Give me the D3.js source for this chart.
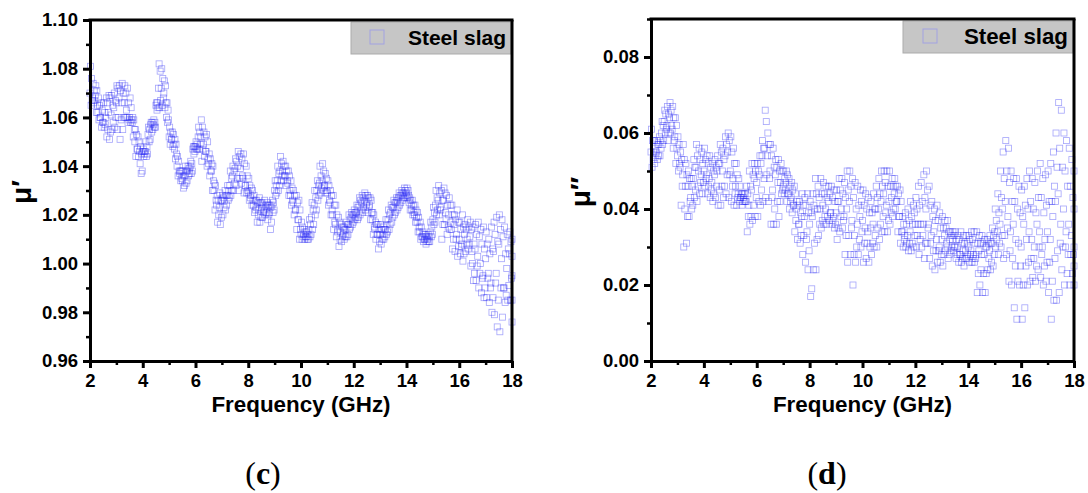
<!DOCTYPE html>
<html><head><meta charset="utf-8">
<script src="https://cdnjs.cloudflare.com/ajax/libs/d3/7.8.5/d3.min.js"></script>
<style>html,body{margin:0;padding:0;background:#fff}svg{display:block}</style>
</head><body><svg id="c" width="1088" height="493"></svg>
<script>
// One row per GHz, ten samples per row (0.1 GHz apart), last row is 18 GHz.
const muRealHigh = [
1.081,1.074,1.073,1.068,1.066,1.066,1.068,1.069,1.069,1.070,
1.073,1.073,1.074,1.073,1.072,1.068,1.060,1.055,1.052,1.048,
1.047,1.050,1.056,1.058,1.059,1.066,1.082,1.080,1.075,1.066,
1.056,1.054,1.051,1.044,1.038,1.038,1.040,1.040,1.042,1.048,
1.050,1.056,1.059,1.054,1.053,1.045,1.041,1.033,1.028,1.029,
1.028,1.030,1.032,1.038,1.040,1.043,1.046,1.045,1.045,1.040,
1.035,1.031,1.028,1.026,1.027,1.025,1.026,1.025,1.024,1.026,
1.034,1.040,1.044,1.042,1.040,1.038,1.034,1.030,1.028,1.026,
1.017,1.014,1.013,1.018,1.025,1.030,1.034,1.040,1.041,1.037,
1.034,1.030,1.028,1.024,1.019,1.016,1.015,1.017,1.020,1.021,
1.022,1.024,1.027,1.028,1.029,1.028,1.027,1.021,1.017,1.016,
1.016,1.015,1.018,1.022,1.024,1.026,1.027,1.029,1.030,1.031,
1.031,1.027,1.026,1.024,1.021,1.017,1.013,1.012,1.012,1.017,
1.023,1.030,1.032,1.030,1.031,1.028,1.027,1.024,1.020,1.022,
1.017,1.020,1.016,1.018,1.017,1.015,1.016,1.017,1.014,1.015,
1.013,1.010,1.015,1.017,1.019,1.020,1.018,1.015,1.012,1.013,
1.010];
const muRealUpper = [
1.076,1.071,1.071,1.065,1.063,1.062,1.066,1.068,1.065,1.067,
1.072,1.071,1.070,1.070,1.066,1.064,1.059,1.053,1.050,1.045,
1.046,1.048,1.055,1.058,1.058,1.066,1.079,1.076,1.073,1.063,
1.054,1.053,1.049,1.042,1.038,1.036,1.038,1.039,1.041,1.048,
1.049,1.054,1.056,1.052,1.050,1.043,1.040,1.032,1.026,1.026,
1.027,1.028,1.030,1.035,1.038,1.042,1.044,1.043,1.041,1.036,
1.032,1.030,1.026,1.025,1.025,1.024,1.024,1.024,1.023,1.025,
1.032,1.037,1.041,1.040,1.038,1.036,1.031,1.028,1.025,1.022,
1.015,1.013,1.012,1.016,1.022,1.027,1.032,1.036,1.038,1.035,
1.032,1.028,1.024,1.020,1.017,1.015,1.014,1.016,1.018,1.020,
1.021,1.023,1.026,1.027,1.028,1.027,1.026,1.020,1.016,1.014,
1.014,1.014,1.016,1.020,1.023,1.025,1.026,1.028,1.029,1.030,
1.030,1.026,1.024,1.022,1.019,1.015,1.012,1.011,1.011,1.015,
1.021,1.027,1.029,1.026,1.029,1.024,1.024,1.020,1.018,1.017,
1.014,1.015,1.014,1.015,1.014,1.008,1.012,1.011,1.008,1.006,
1.008,1.004,1.006,1.012,1.009,1.014,1.011,1.004,1.006,1.009,
1.003];
const muRealMid = [
1.070,1.068,1.069,1.062,1.060,1.058,1.060,1.062,1.061,1.064,
1.066,1.068,1.066,1.066,1.060,1.060,1.058,1.050,1.047,1.041,
1.046,1.046,1.053,1.057,1.057,1.065,1.072,1.072,1.070,1.060,
1.052,1.051,1.047,1.040,1.037,1.034,1.036,1.038,1.040,1.047,
1.048,1.052,1.052,1.049,1.046,1.041,1.038,1.030,1.024,1.023,
1.026,1.026,1.028,1.032,1.036,1.039,1.040,1.039,1.035,1.032,
1.029,1.028,1.024,1.023,1.022,1.023,1.022,1.023,1.021,1.024,
1.030,1.034,1.038,1.038,1.036,1.033,1.028,1.025,1.022,1.018,
1.012,1.012,1.011,1.014,1.019,1.024,1.030,1.033,1.034,1.032,
1.029,1.025,1.020,1.016,1.014,1.013,1.012,1.014,1.016,1.019,
1.020,1.021,1.024,1.025,1.026,1.025,1.024,1.018,1.014,1.012,
1.012,1.012,1.014,1.018,1.021,1.023,1.025,1.027,1.028,1.029,
1.029,1.025,1.022,1.020,1.017,1.013,1.011,1.010,1.010,1.013,
1.018,1.024,1.026,1.022,1.026,1.018,1.020,1.014,1.016,1.012,
1.010,1.008,1.012,1.010,1.011,1.000,1.006,1.003,1.000,0.995,
1.002,0.996,0.992,1.005,0.996,1.008,1.002,0.990,0.998,1.004,
0.995];
const muRealLower = [
1.067,1.067,1.065,1.060,1.058,1.057,1.055,1.054,1.058,1.060,
1.060,1.059,1.060,1.063,1.059,1.059,1.055,1.047,1.046,1.038,
1.045,1.045,1.051,1.055,1.056,1.064,1.067,1.068,1.066,1.059,
1.051,1.049,1.045,1.038,1.035,1.032,1.034,1.037,1.038,1.046,
1.047,1.049,1.047,1.046,1.043,1.038,1.034,1.026,1.020,1.019,
1.023,1.024,1.027,1.030,1.033,1.035,1.035,1.036,1.032,1.030,
1.027,1.026,1.022,1.020,1.019,1.021,1.021,1.020,1.017,1.022,
1.029,1.032,1.036,1.036,1.034,1.030,1.026,1.022,1.018,1.014,
1.011,1.011,1.010,1.012,1.016,1.022,1.028,1.031,1.032,1.030,
1.026,1.022,1.017,1.013,1.010,1.011,1.011,1.012,1.015,1.017,
1.019,1.019,1.022,1.023,1.024,1.023,1.021,1.015,1.012,1.009,
1.010,1.011,1.013,1.016,1.019,1.021,1.023,1.025,1.027,1.028,
1.028,1.024,1.021,1.019,1.015,1.011,1.010,1.009,1.009,1.012,
1.017,1.022,1.023,1.016,1.021,1.015,1.017,1.010,1.010,1.007,
1.007,1.004,1.008,1.008,1.005,0.996,0.999,0.996,0.994,0.990,
0.994,0.990,0.986,0.992,0.985,0.990,0.990,0.987,0.991,0.994,
0.985];
const muRealLow = [
1.065,1.066,1.062,1.059,1.056,1.056,1.052,1.051,1.055,1.056,
1.055,1.051,1.055,1.060,1.058,1.058,1.052,1.044,1.044,1.037,
1.044,1.044,1.050,1.054,1.056,1.063,1.064,1.065,1.064,1.058,
1.049,1.048,1.043,1.036,1.034,1.031,1.033,1.036,1.037,1.045,
1.047,1.047,1.042,1.044,1.040,1.036,1.030,1.022,1.017,1.016,
1.020,1.022,1.026,1.028,1.030,1.032,1.030,1.033,1.029,1.029,
1.026,1.024,1.021,1.017,1.017,1.019,1.020,1.018,1.014,1.021,
1.028,1.030,1.034,1.034,1.032,1.028,1.024,1.020,1.014,1.010,
1.010,1.010,1.010,1.011,1.014,1.020,1.026,1.029,1.030,1.029,
1.024,1.020,1.014,1.011,1.007,1.009,1.010,1.011,1.014,1.016,
1.018,1.018,1.020,1.021,1.022,1.021,1.018,1.012,1.010,1.006,
1.008,1.010,1.012,1.014,1.017,1.020,1.022,1.024,1.026,1.027,
1.027,1.022,1.020,1.017,1.013,1.010,1.009,1.008,1.009,1.011,
1.016,1.020,1.020,1.010,1.016,1.012,1.014,1.006,1.005,1.003,
1.004,1.001,1.005,1.006,0.999,0.993,0.993,0.990,0.988,0.986,
0.986,0.984,0.980,0.979,0.974,0.972,0.978,0.984,0.985,0.985,
0.976];
const muImagHigh = [
.061,.058,.058,.059,.063,.066,.067,.068,.067,.064,
.059,.055,.057,.052,.050,.048,.053,.057,.056,.055,
.056,.054,.054,.052,.053,.054,.057,.056,.059,.060,
.059,.056,.052,.048,.044,.044,.046,.050,.052,.052,
.052,.054,.058,.066,.060,.057,.056,.053,.053,.052,
.050,.050,.048,.047,.046,.042,.042,.044,.043,.044,
.042,.044,.048,.046,.048,.047,.046,.046,.046,.045,
.045,.048,.048,.047,.050,.050,.048,.047,.046,.045,
.045,.044,.043,.042,.044,.046,.048,.050,.050,.050,
.050,.048,.048,.046,.045,.038,.039,.040,.042,.041,
.043,.046,.047,.049,.050,.046,.042,.040,.041,.039,
.038,.037,.037,.034,.034,.034,.033,.034,.033,.033,
.033,.034,.034,.034,.033,.033,.032,.032,.033,.035,
.040,.044,.050,.055,.058,.056,.050,.048,.048,.046,
.045,.046,.048,.050,.048,.047,.050,.052,.048,.049,
.050,.052,.055,.060,.068,.066,.060,.058,.056,.053,
.050];
const muImagUpper = [
.058,.056,.057,.058,.062,.065,.065,.066,.064,.062,
.057,.053,.053,.049,.048,.046,.051,.054,.053,.052,
.053,.052,.051,.050,.051,.052,.055,.053,.057,.058,
.055,.052,.049,.046,.044,.044,.044,.046,.049,.050,
.050,.052,.056,.063,.057,.054,.051,.051,.050,.050,
.048,.049,.046,.045,.044,.041,.039,.041,.041,.039,
.039,.041,.044,.043,.044,.044,.043,.044,.043,.042,
.042,.045,.044,.043,.045,.046,.043,.040,.041,.042,
.041,.040,.039,.039,.040,.043,.044,.046,.047,.046,
.046,.046,.046,.044,.042,.036,.036,.037,.038,.039,
.040,.041,.042,.043,.045,.041,.038,.037,.037,.035,
.035,.035,.034,.033,.033,.032,.032,.031,.031,.031,
.032,.032,.031,.031,.031,.031,.030,.031,.031,.033,
.037,.039,.043,.048,.050,.047,.042,.042,.040,.039,
.038,.041,.040,.042,.040,.039,.043,.043,.039,.041,
.042,.042,.046,.051,.056,.051,.050,.046,.046,.043,
.040];
const muImagMid = [
.055,.055,.055,.057,.060,.063,.062,.064,.061,.059,
.054,.051,.049,.046,.046,.043,.048,.051,.050,.049,
.050,.049,.048,.047,.049,.050,.052,.050,.054,.055,
.050,.048,.046,.044,.043,.043,.042,.041,.045,.048,
.047,.049,.054,.056,.054,.050,.045,.049,.047,.047,
.046,.047,.044,.043,.041,.040,.036,.038,.038,.034,
.036,.038,.040,.040,.040,.041,.040,.042,.039,.038,
.039,.042,.040,.038,.040,.042,.037,.033,.036,.038,
.037,.035,.034,.035,.036,.040,.040,.042,.044,.041,
.042,.043,.044,.042,.038,.034,.033,.033,.034,.036,
.036,.036,.036,.036,.040,.036,.033,.034,.032,.030,
.032,.033,.030,.032,.032,.030,.030,.028,.029,.029,
.030,.029,.028,.028,.029,.028,.028,.030,.029,.031,
.034,.034,.036,.040,.042,.038,.034,.036,.032,.031,
.030,.036,.032,.034,.032,.030,.036,.034,.030,.032,
.034,.032,.038,.042,.044,.036,.040,.034,.036,.033,
.030];
const muImagLower = [
.053,.054,.054,.056,.058,.061,.060,.062,.058,.056,
.052,.046,.040,.038,.042,.041,.045,.046,.047,.047,
.048,.046,.045,.044,.046,.045,.046,.046,.049,.049,
.046,.044,.043,.043,.042,.042,.038,.038,.041,.043,
.042,.045,.048,.049,.048,.043,.040,.042,.042,.045,
.045,.044,.042,.041,.037,.036,.033,.033,.032,.029,
.019,.031,.032,.036,.037,.038,.038,.039,.037,.036,
.035,.038,.037,.033,.033,.035,.028,.030,.032,.034,
.031,.031,.030,.031,.033,.035,.036,.038,.039,.037,
.039,.040,.042,.038,.034,.032,.031,.031,.031,.033,
.033,.032,.033,.031,.035,.031,.029,.029,.029,.028,
.028,.031,.028,.030,.030,.028,.028,.027,.027,.028,
.028,.027,.027,.023,.024,.023,.023,.027,.026,.028,
.032,.031,.033,.033,.035,.029,.027,.025,.021,.025,
.020,.025,.026,.027,.027,.025,.030,.028,.025,.026,
.026,.021,.027,.029,.031,.030,.030,.028,.028,.028,
.025];
const muImagLow = [
.051,.052,.053,.054,.057,.060,.058,.060,.056,.052,
.050,.041,.030,.031,.038,.040,.043,.042,.044,.044,
.046,.044,.043,.042,.043,.041,.041,.043,.044,.043,
.042,.041,.041,.042,.041,.042,.034,.036,.037,.038,
.038,.041,.042,.043,.042,.036,.036,.036,.038,.044,
.044,.042,.040,.039,.034,.032,.031,.028,.026,.024,
.017,.024,.024,.033,.035,.036,.036,.037,.036,.035,
.032,.034,.035,.028,.026,.028,.020,.026,.028,.030,
.026,.027,.026,.028,.030,.030,.032,.034,.034,.034,
.036,.038,.040,.034,.031,.030,.030,.029,.029,.030,
.030,.028,.030,.027,.031,.027,.025,.024,.026,.026,
.025,.029,.027,.029,.029,.027,.026,.026,.025,.027,
.026,.026,.026,.018,.020,.018,.018,.024,.024,.025,
.030,.028,.030,.027,.028,.021,.020,.014,.011,.020,
.011,.014,.020,.021,.022,.021,.024,.022,.020,.021,
.018,.011,.016,.016,.018,.024,.020,.023,.020,.023,
.020];
const freqTicks = [2,4,6,8,10,12,14,16,18];
const freqMinor = [3,5,7,9,11,13,15,17];
const realTicks = [0.96,0.98,1.00,1.02,1.04,1.06,1.08,1.10];
const realMinor = [0.97,0.99,1.01,1.03,1.05,1.07,1.09];
const imagTicks = [0,0.02,0.04,0.06,0.08];
const imagMinor = [0.01,0.03,0.05,0.07,0.09];
const legendLabel = "Steel slag";
const xLabel = "Frequency (GHz)";

const svg = d3.select("#c");
const sans = "'Liberation Sans',Arial,sans-serif";
const BLUE = "#1c1cf2";

function panel(o){
  const x = d3.scaleLinear().domain([2,18]).range([o.l,o.r]);
  const y = d3.scaleLinear().domain(o.domain).range([361,o.t]);
  const g = svg.append("g");

  const pts = [];
  o.traces.forEach((tr,k)=>tr.forEach((v,i)=>{
    const f = Math.min(18, 2 + i*0.1 + k*0.02);
    pts.push([f,v]);
  }));
  g.append("g").selectAll("rect").data(pts).join("rect")
    .attr("x",d=>x(d[0])-3).attr("y",d=>y(d[1])-3)
    .attr("width",6).attr("height",6)
    .attr("fill","none").attr("stroke",BLUE)
    .attr("stroke-width",0.8).attr("stroke-opacity",0.4);

  const lg = g.append("g");
  lg.append("rect").attr("x",o.lx).attr("y",o.t+2).attr("width",o.r-o.lx-1).attr("height",32)
    .attr("fill","#c6c6c6").attr("stroke","#ababab").attr("stroke-width",1);
  lg.append("rect").attr("x",o.mx).attr("y",o.t+10).attr("width",14).attr("height",14)
    .attr("fill","none").attr("stroke","#a2a2e2").attr("stroke-width",1);
  lg.append("text").attr("x",o.r-6).attr("y",o.t+25).attr("text-anchor","end")
    .attr("font-family",sans).attr("font-weight",700).attr("font-size",o.legendSize).attr("fill","#000").text(legendLabel);

  g.append("line").attr("x1",o.l-1.5).attr("x2",o.r+1.5).attr("y1",o.t).attr("y2",o.t).attr("stroke","#000").attr("stroke-width",3);
  g.append("line").attr("x1",o.r).attr("x2",o.r).attr("y1",o.t).attr("y2",361).attr("stroke","#000").attr("stroke-width",3);

  const style = (a,w)=>{
    a.select(".domain").attr("stroke","#000").attr("stroke-width",3);
    a.selectAll(".tick line").attr("stroke","#000").attr("stroke-width",w);
    a.selectAll("text").attr("font-family",sans).attr("font-weight",700).attr("font-size",18.5).attr("fill","#000");
  };
  const ax = g.append("g").attr("transform",`translate(0,361)`);
  ax.call(d3.axisBottom(x).tickValues(freqMinor).tickSize(4).tickSizeOuter(0).tickFormat(""));
  style(ax,2.5);
  const ax2 = g.append("g").attr("transform",`translate(0,361)`);
  ax2.call(d3.axisBottom(x).tickValues(freqTicks).tickSize(7).tickSizeOuter(0).tickPadding(6).tickFormat(d3.format("d")));
  style(ax2,3);

  const ay = g.append("g").attr("transform",`translate(${o.l},0)`);
  ay.call(d3.axisLeft(y).tickValues(o.minor).tickSize(4).tickSizeOuter(0).tickFormat(""));
  style(ay,2.5);
  const ay2 = g.append("g").attr("transform",`translate(${o.l},0)`);
  ay2.call(d3.axisLeft(y).tickValues(o.ticks).tickSize(7).tickSizeOuter(0).tickPadding(5).tickFormat(d3.format(".2f")));
  style(ay2,3);

  g.append("text").attr("x",(o.l+o.r)/2).attr("y",412).attr("text-anchor","middle")
    .attr("font-family",sans).attr("font-weight",700).attr("font-size",22.4).attr("fill","#000").text(xLabel);
  g.append("text").attr("transform",`translate(${o.yx},192) rotate(-90)`).attr("text-anchor","middle")
    .attr("font-family",sans).attr("font-weight",700).attr("font-size",28).attr("fill","#000").text(o.yLabel);
  const cap = g.append("text").attr("x",o.cx).attr("y",484).attr("text-anchor","middle")
    .attr("font-family","'Liberation Serif',serif").attr("font-size",32).attr("fill","#000");
  cap.append("tspan").text("(");
  cap.append("tspan").attr("font-weight",700).text(o.caption);
  cap.append("tspan").text(")");
}

panel({l:90,r:512,t:20,domain:[0.96,1.10],ticks:realTicks,minor:realMinor,
  traces:[muRealMid,muRealHigh,muRealLow,muRealUpper,muRealLower],lx:351,mx:370,yx:31,yLabel:"μ′",cx:263,caption:"c",legendSize:21});
panel({l:651,r:1074,t:19,domain:[0,0.09],ticks:imagTicks,minor:imagMinor,
  traces:[muImagMid,muImagHigh,muImagLow,muImagUpper,muImagLower],lx:903,mx:923,yx:590,yLabel:"μ″",cx:827,caption:"d",legendSize:22.3});
</script></body></html>
